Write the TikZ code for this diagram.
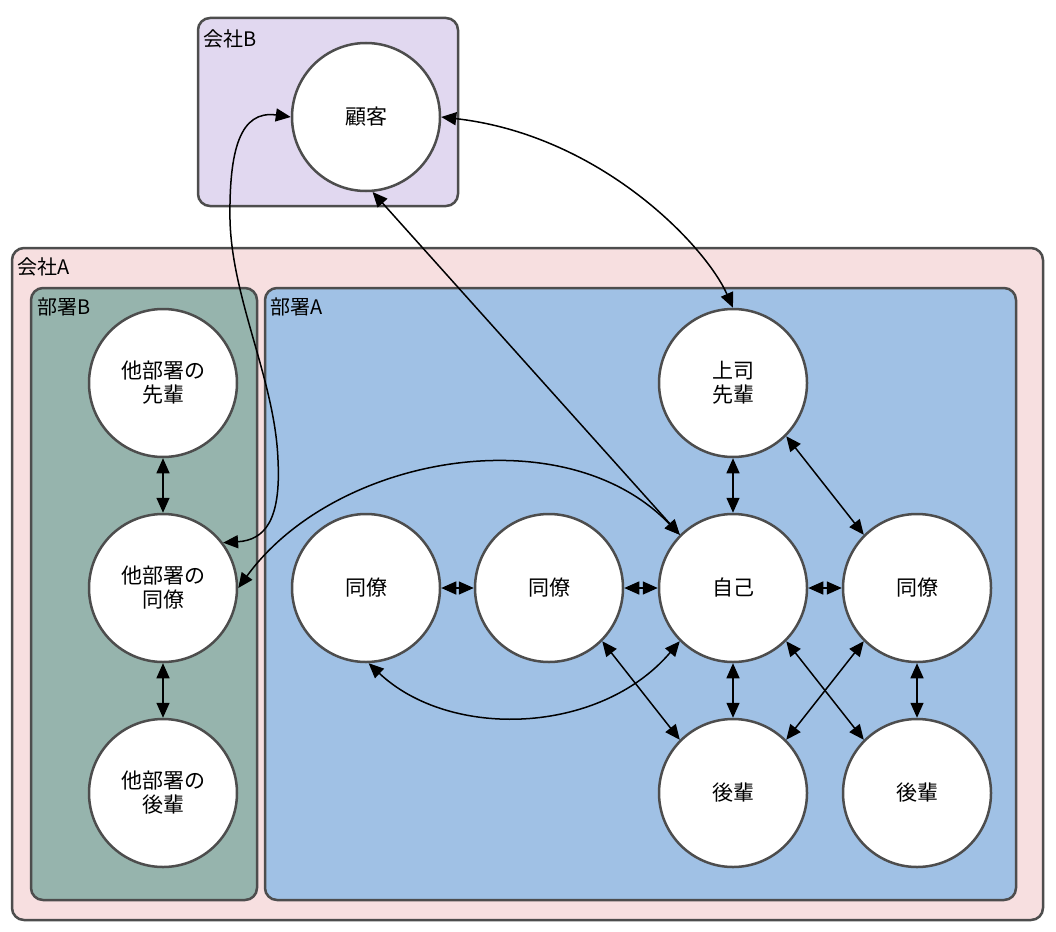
\documentclass[tikz,border=0pt]{standalone}
\usepackage{fontspec}
\setmainfont{Noto Sans CJK JP}
\usepackage{tikz}
\usetikzlibrary{arrows.meta, positioning}
\definecolor{linegray}{HTML}{4D4D4D}
\definecolor{companyA}{HTML}{F7DFE0}
\definecolor{companyB}{HTML}{E1D8F0}
\definecolor{deptA}{HTML}{A0C1E5}
\definecolor{deptB}{HTML}{96B4AD}
\tikzset{
  person/.style = {circle, draw=linegray, line width=2.5pt, fill=white,
    minimum size=148pt, inner sep=0pt, align=center,
    font=\fontsize{21}{24}\selectfont},
  group/.style = {draw=linegray, line width=2.5pt, rounded corners=12pt},
  grouplabel/.style = {anchor=base west, inner sep=0pt,
    font=\fontsize{20}{24}\selectfont},
  link/.style = {<->, line width=1.5pt}
}
\begin{document}
\begin{tikzpicture}[x=1pt, y=-1pt, >={Triangle[length=15pt,width=13pt]}]
\useasboundingbox (0,0) rectangle (1056,931);
\filldraw[group, fill=companyB] (198,18) rectangle (458,206);
\filldraw[group, fill=companyA] (12,248) rectangle (1043,920);
\filldraw[group, fill=deptB] (31,288) rectangle (257,900);
\filldraw[group, fill=deptA] (265,288) rectangle (1016,900);
\node[grouplabel] (lblB) at (203,47) {会社B};
\node[grouplabel] (lblA) at (17,274) {会社A};
\node[grouplabel] (lbldeptB) at (37,314) {部署B};
\node[grouplabel] (lbldeptA) at (270,314) {部署A};

\node[person] (kokyaku) at (366,117) {顧客};
\node[person] (tasenpai) at (163,383) {他部署の\\先輩};
\node[person] (tadoryo) at (163,588) {他部署の\\同僚};
\node[person] (takohai) at (163,793) {他部署の\\後輩};
\node[person] (joushi) at (733,383) {上司\\先輩};
\node[person] (doryo1) at (366,588) {同僚};
\node[person] (doryo2) at (549,588) {同僚};
\node[person] (jiko) at (733,588) {自己};
\node[person] (doryo3) at (917,588) {同僚};
\node[person] (kohai1) at (733,793) {後輩};
\node[person] (kohai2) at (917,793) {後輩};

\draw[link] (tasenpai) -- (tadoryo);
\draw[link] (tadoryo) -- (takohai);
\draw[link] (doryo1) -- (doryo2);
\draw[link] (doryo2) -- (jiko);
\draw[link] (jiko) -- (doryo3);
\draw[link] (joushi) -- (jiko);
\draw[link] (jiko) -- (kohai1);
\draw[link] (doryo3) -- (kohai2);
\draw[link] (joushi.-45) -- (doryo3.135);
\draw[link] (doryo2.-45) -- (kohai1.135);
\draw[link] (jiko.-45) -- (kohai2.135);
\draw[link] (doryo3.-135) -- (kohai1.45);
\draw[link] (kokyaku.-85) -- (jiko.135);
\draw[link] (kokyaku.east) .. controls (600,135) and (705,245) .. (joushi.north);
\draw[link] (kokyaku.west) .. controls (240,110) and (229,150) .. (230,220)
  .. controls (232,300) and (275,380) .. (278,460)
  .. controls (281,520) and (265,540) .. (tadoryo.37);
\draw[link] (jiko.135) .. controls (565,415) and (335,455) .. (tadoryo.east);
\draw[link] (jiko.-135) .. controls (600,735) and (450,740) .. (doryo1.-88);
\end{tikzpicture}
\end{document}
